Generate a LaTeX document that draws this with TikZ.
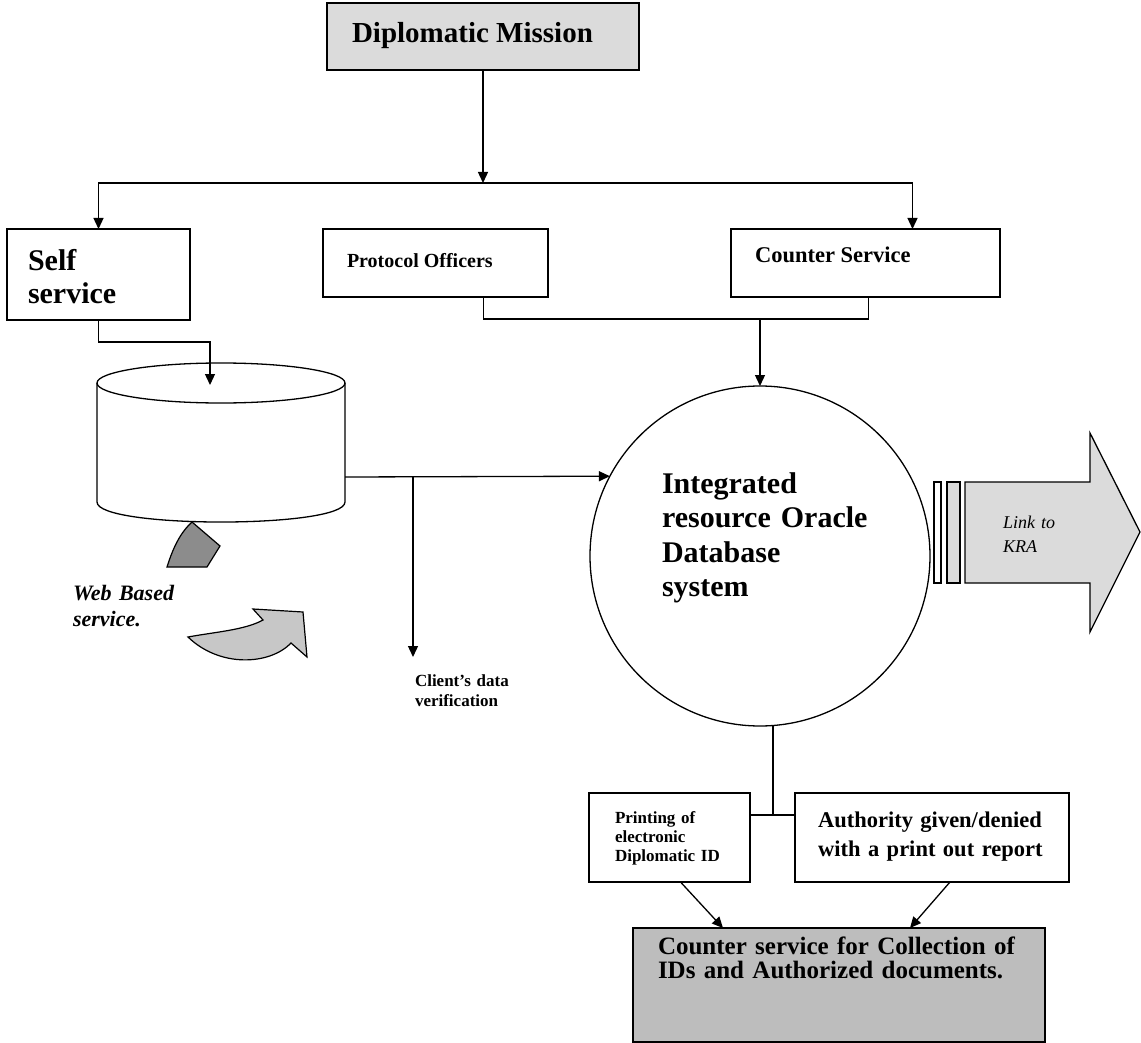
\documentclass[tikz,border=0pt]{standalone}
\usepackage{fontspec}
\setmainfont{Liberation Serif}
\usetikzlibrary{arrows.meta,calc}
\begin{document}
\begin{tikzpicture}[x=1pt,y=-1pt,
  box/.style={draw, line width=1.4pt, inner sep=0pt, outer sep=0pt},
  txt/.style={inner sep=0pt, outer sep=0pt, anchor=base west, align=left},
  line/.style={line width=1.3pt},
  arr/.style={line width=1.3pt, -{Triangle[length=11pt,width=10pt]}},
  lightfill/.style={fill=black!14},
  darkfill/.style={fill=black!26}
]
\useasboundingbox[fill=white] (0,0) rectangle (1141,1043);

% database cylinder
\draw[line, fill=white] (97,383) -- (97,502) .. controls (97,528.7) and (345,528.7) .. (345,502) -- (345,383);
\draw[line] (221,383) ellipse [x radius=124pt, y radius=20pt];
\coordinate (dbtop) at (210,385);
\coordinate (dbr) at (345,477);
\coordinate (vbr) at (413,477);
\coordinate (vbend) at (413,657);
\coordinate (hj) at (483,183);

% wedge under database
\draw[line width=1.2pt, fill=black!45] (192,522) -- (220,546) -- (207,567) -- (167,567) .. controls (173,548) and (180,533) .. (192,522) -- cycle;
% curved arrow
\draw[line width=1.2pt, fill=black!22] (188,637) .. controls (215,632) and (245,630) .. (263,620) -- (253,609) -- (303,612) -- (307,657) -- (291,643) .. controls (270,665) and (220,668) .. (188,637) -- cycle;

% KRA arrow
\draw[line, fill=white] (934,482) rectangle (941,583);
\draw[line, lightfill] (947,482) rectangle (960,583);
\draw[line, lightfill] (965,482) -- (1090,482) -- (1090,433) -- (1140,532) -- (1090,632) -- (1090,583) -- (965,583) -- cycle;

% boxes
\node[box, lightfill, minimum width=312pt, minimum height=67pt] (dm) at (483,36.5) {};
\node[box, minimum width=183pt, minimum height=91pt] (ss) at (98.5,274.5) {};
\node[box, minimum width=225pt, minimum height=68pt] (po) at (435.5,263) {};
\node[box, minimum width=269pt, minimum height=68pt] (cs) at (865.5,263) {};
\node[draw, circle, line width=1.3pt, inner sep=0pt, outer sep=0pt, minimum size=340pt] (ird) at (760,556) {};
\node[box, minimum width=161pt, minimum height=89pt] (pr) at (669.5,837.5) {};
\node[box, minimum width=274pt, minimum height=89pt] (au) at (932,837.5) {};
\node[box, darkfill, minimum width=412pt, minimum height=114pt] (cc) at (839,985) {};

% texts
\node[txt, font=\bfseries\fontsize{29}{33}\selectfont] (dmt) at (352,43) {Diplomatic Mission};
\node[txt, text width=150pt, font=\bfseries\fontsize{30}{33}\selectfont] (sst) at (28,270) {Self\\service};
\node[txt, font=\bfseries\fontsize{20}{24}\selectfont] (pot) at (347,268) {Protocol Officers};
\node[txt, font=\bfseries\fontsize{22.5}{26}\selectfont] (cst) at (755,262) {Counter Service};
\node[txt, text width=240pt, font=\bfseries\fontsize{30}{34.5}\selectfont] (irt) at (662,493) {Integrated\\resource Oracle\\Database\\system};
\node[txt, text width=130pt, font=\bfseries\itshape\fontsize{22}{26}\selectfont] (wbt) at (73,600) {Web Based\\service.};
\node[txt, text width=130pt, font=\bfseries\fontsize{17}{20}\selectfont] (cdt) at (415,686) {Client’s data\\verification};
\node[txt, text width=80pt, font=\itshape\fontsize{18}{24}\selectfont] (lkt) at (1003,528) {Link to\\KRA};
\node[txt, text width=140pt, font=\bfseries\fontsize{17}{19}\selectfont] (prt) at (615,823) {Printing of\\electronic\\Diplomatic ID};
\node[txt, text width=250pt, font=\bfseries\fontsize{22.5}{29}\selectfont] (aut) at (818,827) {Authority given/denied\\with a print out report};
\node[txt, text width=390pt, font=\bfseries\fontsize{25}{24}\selectfont] (cct) at (658,954) {Counter service for Collection of\\IDs and Authorized documents.};

% connectors
\draw[arr] (dm.south) -- (hj);
\draw[arr] (hj) -| (ss.north);
\draw[arr] (hj) -| ($(cs.north)+(47,0)$);
\draw[arr] (ss.south) -- ++(0,22) -| (dbtop);
\draw[line] ($(po.south)+(48,0)$) -- ++(0,22) coordinate (pcl) -| ($(cs.south)+(3,0)$);
\draw[arr] (pcl -| ird.north) -- (ird.north);
\draw[arr] (dbr) -- (ird.152);
\draw[arr] (vbr) -- (vbend);
\draw[line] ($(ird.south)+(13,0)$) -- ++(0,89) coordinate (bj);
\draw[line] (pr.east |- bj) -- (au.west |- bj);
\draw[arr] ($(pr.south)+(11,0)$) -- ($(cc.north)+(-116,0)$);
\draw[arr] ($(au.south)+(18,0)$) -- ($(cc.north)+(71,0)$);
\end{tikzpicture}
\end{document}
